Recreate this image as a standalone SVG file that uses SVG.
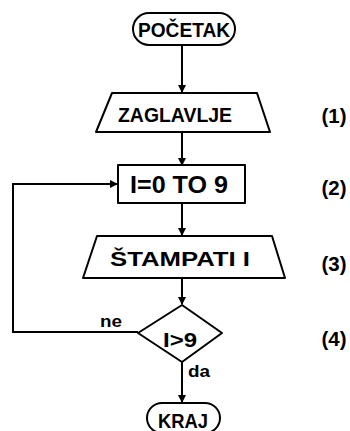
<svg xmlns="http://www.w3.org/2000/svg" width="350" height="431" viewBox="0 0 350 431">
  <style>
    .shape { fill: #fff; stroke: #000; stroke-width: 2; stroke-linejoin: round; }
    .line { fill: none; stroke: #000; stroke-width: 2; }
    .txt { font-family: "Liberation Sans", Arial, sans-serif; font-weight: bold; fill: #000; }
    .lbl { font-family: "Liberation Sans", Arial, sans-serif; font-weight: bold; font-size: 17px; fill: #000; }
    .num { font-family: "Liberation Sans", Arial, sans-serif; font-weight: bold; font-size: 20px; fill: #000; }
  </style>
  <defs>
    <marker id="arrow" viewBox="0 0 8 8" refX="7" refY="4" markerWidth="4" markerHeight="4" orient="auto" markerUnits="strokeWidth">
      <path d="M0,0 L8,4 L0,8 Z" fill="#000"/>
    </marker>
  </defs>
  <rect width="350" height="431" fill="#fff"/>

  <g id="connectors">
    <line class="line" x1="182" y1="45" x2="182" y2="92" marker-end="url(#arrow)"/>
    <line class="line" x1="182" y1="132" x2="182" y2="165" marker-end="url(#arrow)"/>
    <line class="line" x1="182" y1="203" x2="182" y2="235" marker-end="url(#arrow)"/>
    <line class="line" x1="182" y1="278" x2="182" y2="304" marker-end="url(#arrow)"/>
    <line class="line" x1="182" y1="362" x2="182" y2="402" marker-end="url(#arrow)"/>
    <polyline class="line" points="138,332 13,332 13,184 117,184" marker-end="url(#arrow)"/>
    <text class="lbl" x="100" y="327" textLength="22" lengthAdjust="spacingAndGlyphs">ne</text>
    <text class="lbl" x="188" y="377" textLength="22" lengthAdjust="spacingAndGlyphs">da</text>
  </g>

  <g id="start">
    <rect class="shape" x="133" y="13" width="102" height="32" rx="16"/>
    <text class="txt" x="184" y="37" font-size="21" text-anchor="middle" textLength="92" lengthAdjust="spacingAndGlyphs">POČETAK</text>
  </g>

  <g id="header">
    <polygon class="shape" points="112,93 257,93 270,132 96,132"/>
    <text class="txt" x="175" y="122" font-size="21" text-anchor="middle" textLength="114" lengthAdjust="spacingAndGlyphs">ZAGLAVLJE</text>
    <text class="num" x="334" y="123" text-anchor="middle" textLength="25" lengthAdjust="spacingAndGlyphs">(1)</text>
  </g>

  <g id="loop">
    <rect class="shape" x="118" y="165" width="127" height="38"/>
    <text class="txt" x="179" y="193" font-size="23" text-anchor="middle" textLength="98" lengthAdjust="spacingAndGlyphs">I=0 TO 9</text>
    <text class="num" x="334" y="195" text-anchor="middle" textLength="25" lengthAdjust="spacingAndGlyphs">(2)</text>
  </g>

  <g id="print">
    <polygon class="shape" points="97,236 272,236 285,278 83,278"/>
    <text class="txt" x="180" y="266" font-size="21" text-anchor="middle" textLength="140" lengthAdjust="spacingAndGlyphs">ŠTAMPATI I</text>
    <text class="num" x="334" y="271" text-anchor="middle" textLength="25" lengthAdjust="spacingAndGlyphs">(3)</text>
  </g>

  <g id="decision">
    <polygon class="shape" points="182,305 222,333 182,362 138,333"/>
    <text class="txt" x="180" y="347" font-size="20" text-anchor="middle" textLength="34" lengthAdjust="spacingAndGlyphs">I&gt;9</text>
    <text class="num" x="334" y="346" text-anchor="middle" textLength="25" lengthAdjust="spacingAndGlyphs">(4)</text>
  </g>

  <g id="end">
    <rect class="shape" x="147" y="403" width="73" height="30" rx="15"/>
    <text class="txt" x="183" y="428" font-size="20" text-anchor="middle" textLength="50" lengthAdjust="spacingAndGlyphs">KRAJ</text>
  </g>
</svg>
